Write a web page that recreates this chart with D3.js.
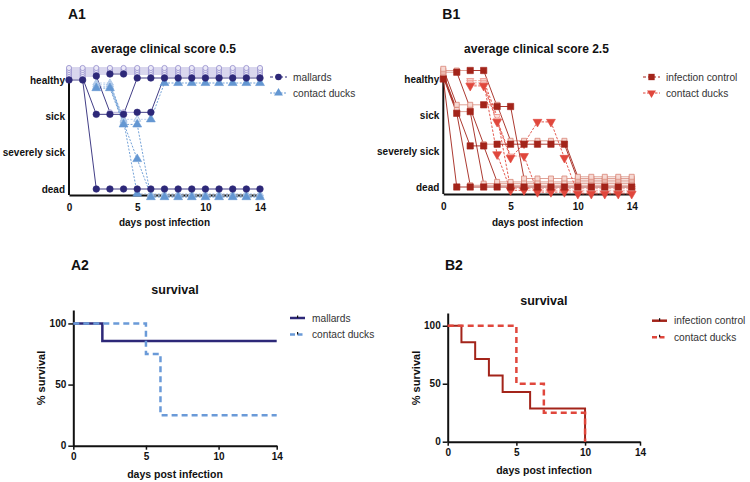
<!DOCTYPE html>
<html><head><meta charset="utf-8">
<script src="https://cdn.jsdelivr.net/npm/d3@7"></script>
<style>body{margin:0;background:#fff} svg{display:block;font-family:"Liberation Sans",Arial,sans-serif}</style>
</head><body><svg id="c" width="750" height="482"></svg>
<script>
// ---------- data ----------
const days = [0,1,2,3,4,5,6,7,8,9,10,11,12,13,14];
const scoreLabels = ["dead","severely sick","sick","healthy"]; // score 0..3
const scoreValues = [0,1,2,3];
const xTickValues = [0,5,10,14];
const survTickValues = [0,50,100];

// A1: clinical score per animal per day (3 healthy, 2 sick, 1 severely sick, 0 dead)
const mallards = [
  [3,3,0,0,0,0,0,0,0,0,0,0,0,0,0],
  [3,3,2,2,2,3,3,3,3,3,3,3,3,3,3],
  [3,3,3,2,2,2,2,3,3,3,3,3,3,3,3],
  [3,3,3,3,3,3,3,3,3,3,3,3,3,3,3],
  [3,3,3,3,3,3,3,3,3,3,3,3,3,3,3],
  [3,3,3,3,3,3,3,3,3,3,3,3,3,3,3],
  [3,3,3,3,3,3,3,3,3,3,3,3,3,3,3]
];
const contactA = [
  [null,null,3,3,2,2,2,3,3,3,3,3,3,3,3],
  [null,null,3,3,2,0,0,0,0,0,0,0,0,0,0],
  [null,null,3,3,2,1,0,0,0,0,0,0,0,0,0],
  [null,null,3,3,2,2,0,0,0,0,0,0,0,0,0]
];
// B1
const infectionControl = [
  [3,0,0,0,0,0,0,0,0,0,0,0,0,0,0],
  [3,2,0,0,0,0,0,0,0,0,0,0,0,0,0],
  [3,2,2,0,0,0,0,0,0,0,0,0,0,0,0],
  [3,2,1,1,0,0,0,0,0,0,0,0,0,0,0],
  [3,3,2,1,1,1,1,1,1,1,0,0,0,0,0],
  [3,3,3,3,2,2,0,0,0,0,0,0,0,0,0],
  [3,2,2,2,2,1,1,1,1,1,0,0,0,0,0]
];
const contactB = [
  [null,null,3,3,2,0,0,0,0,0,0,0,0,0,0],
  [null,null,3,3,1,0,0,0,0,0,0,0,0,0,0],
  [null,null,3,3,2,1,1,0,0,0,0,0,0,0,0],
  [null,null,3,3,2,1,1.4,2,2,1,0,0,0,0,0]
];
// Survival (Kaplan-Meier steps: [day, % survival])
const survMallards = [[0,100],[2,85.7],[14,85.7]];
const survContactA = [[0,100],[5,75],[6,25],[14,25]];
const survInfection = [[0,100],[1,85.7],[2,71.4],[3,57.1],[4,42.9],[6,28.6],[10,0]];
const survContactB = [[0,100],[5,50],[7,25],[10,0]];

// ---------- drawing ----------
const svg = d3.select("#c");
svg.append("rect").attr("width",750).attr("height",482).attr("fill","#fff");

const C = {
  navy:"#2d2878", navyLight:"#ebe9f7", navyLightStroke:"#938dcc", navyLine:"#aaa5d8",
  blue:"#6497d2", blueLight:"#e3ecf8", blueLightStroke:"#9dbce3", blueLine:"#b5cdec",
  red:"#a3241a", redLight:"#f6d8d2", redLightStroke:"#d98677", redLine:"#dc998c",
  pink:"#e0473c", pinkLight:"#fbe0dc", pinkLightStroke:"#ec8d84", pinkLine:"#f1a8a0"
};

function text(x,y,s,opt={}){
  const t = svg.append("text").attr("x",x).attr("y",y).text(s)
    .attr("font-size",opt.size||10).attr("font-weight",opt.weight||"bold")
    .attr("fill",opt.fill||"#111").attr("text-anchor",opt.anchor||"start");
  if(opt.rotate) t.attr("transform",`rotate(${opt.rotate},${x},${y})`);
  return t;
}

function symbolPath(kind,size){
  if(kind==="circle") return d3.symbol(d3.symbolCircle,size)();
  if(kind==="square") return d3.symbol(d3.symbolSquare,size)();
  return d3.symbol(d3.symbolTriangle,size)();
}

function drawScorePanel(o){
  const x = d3.scaleLinear().domain([0,14]).range([o.x0,o.x1]);
  const y = d3.scaleLinear().domain([0,3]).range([o.yDead,o.yHealthy]);
  const g = svg.append("g");
  g.append("line").attr("x1",o.x0).attr("x2",o.x0).attr("y1",o.axisTop).attr("y2",o.axisBottom)
    .attr("stroke","#111").attr("stroke-width",2);
  const xa = g.append("g").attr("transform",`translate(0,${o.axisBottom})`)
    .call(d3.axisBottom(x).tickValues(xTickValues).tickSize(0).tickSizeOuter(0).tickPadding(9));
  xa.select(".domain").attr("stroke","#111").attr("stroke-width",2);
  xa.selectAll("text").attr("font-size",10).attr("font-weight","bold").attr("fill","#111")
    .attr("font-family","Liberation Sans, Arial, sans-serif");
  const ya = g.append("g").attr("transform",`translate(${o.x0-4},0)`)
    .call(d3.axisLeft(y).tickValues(scoreValues).tickFormat(d=>scoreLabels[d]).tickSize(0).tickPadding(0));
  ya.select(".domain").remove();
  ya.selectAll("text").attr("font-size",10).attr("font-weight","bold").attr("fill","#111")
    .attr("font-family","Liberation Sans, Arial, sans-serif");

  const lightLineG = g.append("g"), darkLineG = g.append("g"), markG = g.append("g");
  o.series.forEach(s=>{
    const n = s.data.length;
    const off = i => s.offset(i);
    const dark = s.data.map(()=>days.map(()=>false));
    days.forEach((d,di)=>{
      const groups = d3.group(d3.range(n).filter(i=>s.data[i][di]!=null), i=>s.data[i][di]);
      groups.forEach(arr=>{ const k = s.darkLast ? arr[arr.length-1] : arr[0]; dark[k][di]=true; });
    });
    s.data.forEach((row,i)=>{
      for(let di=0; di<days.length-1; di++){
        const a=row[di], b=row[di+1];
        if(a==null||b==null) continue;
        const isDark = (a!==b) || (dark[i][di] && dark[i][di+1]);
        (isDark?darkLineG:lightLineG).append("line")
          .attr("x1",x(days[di])).attr("y1",y(a)+off(i))
          .attr("x2",x(days[di+1])).attr("y2",y(b)+off(i))
          .attr("stroke", isDark ? s.color : s.lineLight)
          .attr("stroke-width", isDark ? 0.9 : 0.9)
          .attr("stroke-dasharray", s.dash || null);
      }
    });
    [false,true].forEach(wantDark=>{
      s.data.forEach((row,i)=>{
        row.forEach((v,di)=>{
          if(v==null || dark[i][di]!==wantDark) return;
          markG.append("path")
            .attr("d",symbolPath(s.symbol, wantDark ? s.size : s.size*0.62))
            .attr("transform",`translate(${x(days[di])},${y(v)+off(i)})${s.flip?" rotate(180)":""}`)
            .attr("fill", wantDark ? s.color : s.light)
            .attr("stroke", wantDark ? s.color : s.lightStroke)
            .attr("stroke-width", wantDark ? 0.6 : 0.8);
        });
      });
    });
  });
  text((o.x0+o.x1)/2 - 1, 53, o.title, {size:12, anchor:"middle"});
  text(o.x0-1, 19, o.panel, {size:14});
  text((o.x0+o.x1)/2, 226, "days post infection", {size:10, anchor:"middle"});
  o.legend.forEach((L,k)=>{
    const ly = o.legY + k*16;
    svg.append("line").attr("x1",o.legX).attr("x2",o.legX+17).attr("y1",ly).attr("y2",ly)
      .attr("stroke",L.color).attr("stroke-width",1).attr("stroke-dasharray",L.dash||"3,2");
    svg.append("path").attr("d",symbolPath(L.symbol,L.size))
      .attr("transform",`translate(${o.legX+8.5},${ly})${L.flip?" rotate(180)":""}`)
      .attr("fill",L.color);
    text(o.legX+23, ly+3.5, L.label, {size:10.2, weight:"normal", fill:"#333"});
  });
}

drawScorePanel({
  panel:"A1", title:"average clinical score 0.5",
  x0:69, x1:260, yHealthy:80, yDead:189, axisTop:81, axisBottom:195,
  series:[
    {data:contactA, symbol:"triangle", size:34, color:C.blue, light:C.blueLight, lightStroke:C.blueLightStroke,
     lineLight:C.blueLine, dash:"2,1.5", offset:i=>3+1.7*i, darkLast:true},
    {data:mallards, symbol:"circle", size:34, color:C.navy, light:C.navyLight, lightStroke:C.navyLightStroke,
     lineLight:C.navyLine, offset:i=>-2*i}
  ],
  legX:270, legY:77,
  legend:[
    {label:"mallards", symbol:"circle", size:34, color:C.navy},
    {label:"contact ducks", symbol:"triangle", size:34, color:C.blue, dash:"2,1.5"}
  ]
});

drawScorePanel({
  panel:"B1", title:"average clinical score 2.5",
  x0:443.3, x1:631.7, yHealthy:79, yDead:187, axisTop:80, axisBottom:194,
  series:[
    {data:contactB, symbol:"triangle", flip:true, size:34, color:C.pink, light:C.pinkLight, lightStroke:C.pinkLightStroke,
     lineLight:C.pinkLine, dash:"2.5,1.5", offset:i=>1.5+1.8*i, darkLast:true},
    {data:infectionControl, symbol:"square", size:40, color:C.red, light:C.redLight, lightStroke:C.redLightStroke,
     lineLight:C.redLine, offset:i=>-1.7*i}
  ],
  legX:643, legY:77,
  legend:[
    {label:"infection control", symbol:"square", size:40, color:C.red},
    {label:"contact ducks", symbol:"triangle", flip:true, size:34, color:C.pink, dash:"2.5,1.5"}
  ]
});

function drawSurvPanel(o){
  const x = d3.scaleLinear().domain([0,14]).range([o.x0,o.x1]);
  const y = d3.scaleLinear().domain([0,111]).range([o.y0,o.yTop]);
  const g = svg.append("g");
  const xa = g.append("g").attr("transform",`translate(0,${o.y0})`)
    .call(d3.axisBottom(x).tickValues(xTickValues).tickSize(4).tickSizeOuter(0).tickPadding(3));
  const ya = g.append("g").attr("transform",`translate(${o.x0},0)`)
    .call(d3.axisLeft(y).tickValues(survTickValues).tickSize(5).tickSizeOuter(0).tickPadding(2));
  [xa,ya].forEach(a=>{
    a.select(".domain").attr("stroke","#111").attr("stroke-width",2);
    a.selectAll(".tick line").attr("stroke","#111").attr("stroke-width",1.5);
    a.selectAll("text").attr("font-size",10).attr("font-weight","bold").attr("fill","#111")
      .attr("font-family","Liberation Sans, Arial, sans-serif");
  });
  const line = d3.line().x(d=>x(d[0])).y(d=>y(d[1])).curve(d3.curveStepAfter);
  o.series.forEach(s=>{
    g.append("path").attr("d",line(s.data)).attr("fill","none")
      .attr("stroke",s.color).attr("stroke-width",s.width).attr("stroke-dasharray",s.dash||null);
  });
  text((o.x0+o.x1)/2, o.titleY, "survival", {size:12.5, anchor:"middle"});
  text(o.panelX, 270, o.panel, {size:14});
  text(o.labX, 378, "% survival", {size:11, anchor:"middle", rotate:-90});
  text(o.xlabX, o.xlabY, "days post infection", {size:10.5, anchor:"middle"});
  o.series.forEach((s,k)=>{
    const ly = o.legY + k*16.5;
    svg.append("line").attr("x1",o.legX).attr("x2",o.legX+15).attr("y1",ly).attr("y2",ly)
      .attr("stroke",s.color).attr("stroke-width",2.5).attr("stroke-dasharray",s.dash?"5,2.5":null);
    svg.append("rect").attr("x",o.legX+7).attr("y",ly-2.5).attr("width",1.2).attr("height",2.5).attr("fill","#111");
    text(o.legX+22, ly+3.5, s.label, {size:10.2, weight:"normal", fill:"#333"});
  });
}

drawSurvPanel({
  panel:"A2", panelX:71, titleY:294,
  x0:73.3, x1:276.7, y0:445.7, yTop:310, labX:45, xlabX:175, xlabY:478,
  legX:290, legY:318,
  series:[
    {data:survMallards, label:"mallards", color:C.navy, width:2.5},
    {data:survContactA, label:"contact ducks", color:"#6a9ad8", width:2.5, dash:"6,4"}
  ]
});

drawSurvPanel({
  panel:"B2", panelX:445, titleY:305,
  x0:447.7, x1:640, y0:441.7, yTop:313, labX:420, xlabX:544, xlabY:474,
  legX:652, legY:320.7,
  series:[
    {data:survInfection, label:"infection control", color:C.red, width:2},
    {data:survContactB, label:"contact ducks", color:C.pink, width:2.5, dash:"6,4"}
  ]
});
</script></body></html>
